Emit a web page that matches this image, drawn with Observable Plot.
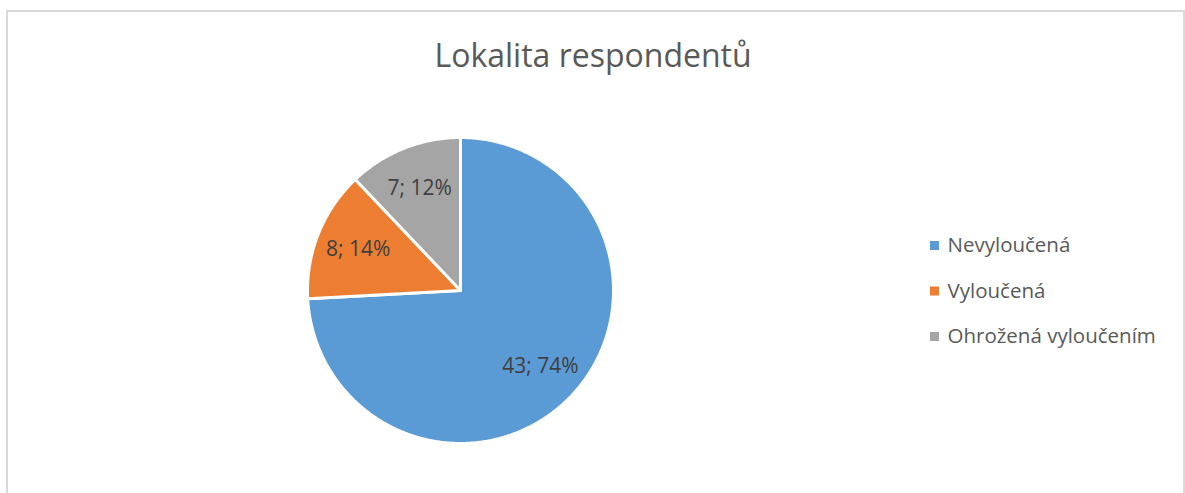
<!DOCTYPE html>
<html>
<head>
<meta charset="utf-8">
<script src="https://cdn.jsdelivr.net/npm/d3@7"></script>
<script src="https://cdn.jsdelivr.net/npm/@observablehq/plot@0.6"></script>
<style>
  html, body { margin: 0; padding: 0; background: #fff; }
  #wrap { position: relative; width: 1185px; height: 493px; overflow: hidden; }
  #border { position: absolute; left: 6px; top: 10px; width: 1175px; height: 520px; border: 2px solid #d9d9d9; box-sizing: content-box; pointer-events: none; }
  svg { position: absolute; left: 0; top: 0; font-family: "Open Sans", sans-serif; }
</style>
</head>
<body>
<div id="wrap"><div id="border"></div></div>
<script>
const title = "Lokalita respondentů";
const categories = ["Nevyloučená", "Vyloučená", "Ohrožená vyloučením"];
const values = [43, 8, 7];
const colors = ["#5B9BD5", "#ED7D31", "#A5A5A5"];

const total = d3.sum(values);
const pie = d3.pie().sort(null).value(d => d)(values);

// polygon points of each slice in unit-circle data coordinates (clockwise from 12 o'clock)
const slicePts = [];
pie.forEach((p, i) => {
  slicePts.push({cat: categories[i], x: 0, y: 0});
  const n = Math.max(2, Math.ceil((p.endAngle - p.startAngle) / (Math.PI / 360)));
  for (let k = 0; k <= n; k++) {
    const a = p.startAngle + (p.endAngle - p.startAngle) * k / n;
    slicePts.push({cat: categories[i], x: Math.sin(a), y: Math.cos(a)});
  }
  slicePts.push({cat: categories[i], x: 0, y: 0});
});

const labelR = 0.72;
const labels = pie.map((p, i) => {
  const a = (p.startAngle + p.endAngle) / 2;
  return {x: labelR * Math.sin(a), y: labelR * Math.cos(a),
          text: `${values[i]}; ${Math.round(values[i] / total * 100)}%`};
});

const cx = 460, cy = 290, r = 153;

const marks = [
  Plot.line(slicePts, {x: "x", y: "y", z: "cat", fill: "cat", stroke: "white", strokeWidth: 3, strokeLinejoin: "round", curve: "linear"}),
  Plot.text(labels, {x: "x", y: "y", text: "text", fill: "#404040", fontSize: 21, textAnchor: "middle", lineAnchor: "middle"}),
  Plot.text([title], {frameAnchor: "top", dy: 56, lineAnchor: "middle", fontSize: 32, fill: "#595959"})
];
categories.forEach((c, i) => {
  marks.push(Plot.dot([c], {frameAnchor: "top-left", dx: 934, dy: 245 + i * 45.5, fill: d => d, symbol: "square", r: 5.1, stroke: null}));
  marks.push(Plot.text([c], {frameAnchor: "top-left", dx: 947, dy: 245 + i * 45.5, text: d => d, lineAnchor: "middle", textAnchor: "start", fontSize: 20.5, fill: "#595959"}));
});

const chart = Plot.plot({
  width: 1185,
  height: 493,
  marginTop: 0, marginRight: 0, marginBottom: 0, marginLeft: 0,
  x: {domain: [-1, 1], range: [cx - r, cx + r], axis: null},
  y: {domain: [-1, 1], range: [cy + r, cy - r], axis: null},
  color: {domain: categories, range: colors},
  style: {background: "transparent", fontFamily: "'Open Sans', sans-serif"},
  marks
});
document.getElementById("wrap").appendChild(chart);
</script>
</body>
</html>
